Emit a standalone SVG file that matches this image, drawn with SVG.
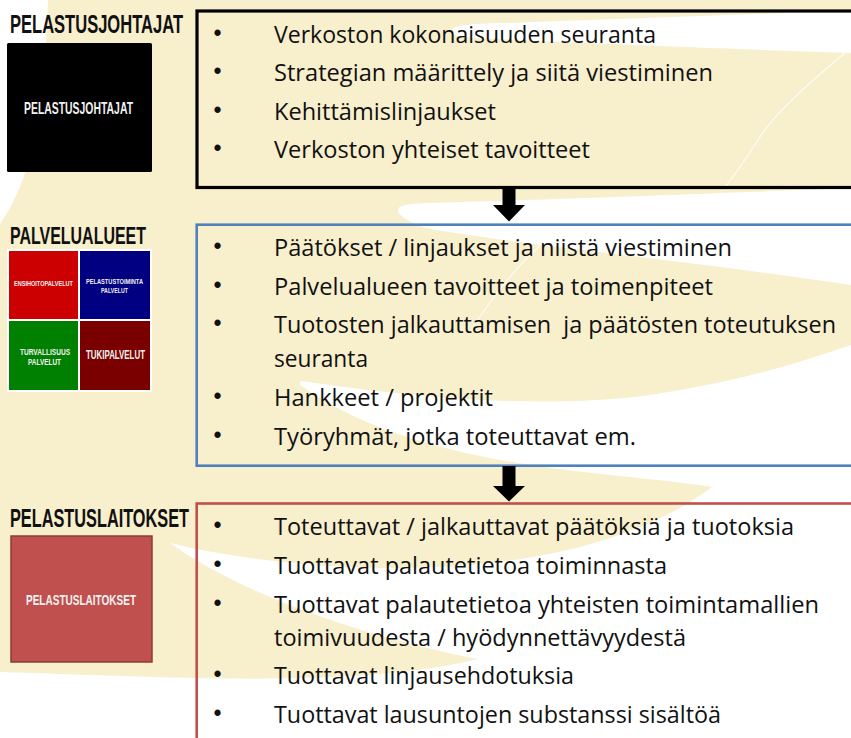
<svg xmlns="http://www.w3.org/2000/svg" width="851" height="738" viewBox="0 0 851 738">
  <style>
    .bg { fill: #F8EFCD; }
    .swoosh { fill: #FFFFFF; }
    .hair { fill: none; stroke: #FFFFFF; stroke-width: 1.2; opacity: 0.85; }
    .title { font-family: "Liberation Sans", Arial, sans-serif; font-weight: bold; font-size: 16.3px; fill: #111111; }
    .chip { font-family: "Liberation Sans Narrow", "Liberation Sans", Arial, sans-serif; font-weight: bold; fill: #F2F2F2; }
    .body { font-family: "Open Sans", "Liberation Sans", Arial, sans-serif; font-size: 23px; fill: #111111; }
    .bullet { font-family: "Liberation Sans", Arial, sans-serif; font-size: 23px; fill: #111111; text-anchor: middle; }
    .frame { fill: none; }
    .arrow { fill: #000000; }
  </style>

  <!-- background -->
  <g id="background">
    <rect class="bg" x="0" y="0" width="851" height="738"/>
    <path class="swoosh" d="M0,0 L48,0 C44,90 38,170 0,224 Z"/>
    <path class="swoosh" d="M452,31 C452,27 460,25 475,24 C600,20 750,14 851,11 L851,53 C700,48 560,42 475,38 C460,37 452,35 452,31 Z"/>
    <path class="swoosh" d="M398,210 C398,205 410,204 425,203 C600,198 750,192 851,188 L851,285 C700,262 520,245 425,228 C410,222 398,216 398,210 Z"/>
    <path class="swoosh" d="M300,381 C380,392 520,412 650,395 C760,378 820,355 851,345 L851,738 L0,738 L0,672 C150,676 350,690 478,659 C380,640 250,600 170,543 C280,570 560,600 712,487 C600,470 420,470 300,385 Z"/>
    <path class="hair" d="M845,53 C800,90 770,120 758,140 C745,160 735,175 725,187"/>
    <path class="hair" d="M560,228 C520,260 490,300 470,332"/>
    <path class="hair" d="M0,688 C120,694 300,700 420,690"/>
  </g>

  <!-- PELASTUSJOHTAJAT -->
  <g id="label-pelastusjohtajat">
    <text class="title" x="10" y="33" transform="matrix(1,0,0,1.55,0,-18.15)" textLength="173" lengthAdjust="spacingAndGlyphs">PELASTUSJOHTAJAT</text>
    <rect x="7" y="43" width="145" height="129" rx="1.5" fill="#000000"/>
    <text class="chip" x="24" y="114" font-size="16.5" textLength="109" lengthAdjust="spacingAndGlyphs">PELASTUSJOHTAJAT</text>
  </g>

  <g id="box-pelastusjohtajat">
    <rect class="frame" x="197" y="11" width="680" height="176.5" stroke="#000000" stroke-width="3.2"/>
    <text class="bullet" x="217.5" y="41">•</text>
    <text class="body" x="274" y="43" textLength="382" lengthAdjust="spacingAndGlyphs">Verkoston kokonaisuuden seuranta</text>
    <text class="bullet" x="217.5" y="79">•</text>
    <text class="body" x="274" y="81" textLength="439" lengthAdjust="spacingAndGlyphs">Strategian määrittely ja siitä viestiminen</text>
    <text class="bullet" x="217.5" y="118">•</text>
    <text class="body" x="274" y="120" textLength="222" lengthAdjust="spacingAndGlyphs">Kehittämislinjaukset</text>
    <text class="bullet" x="217.5" y="156">•</text>
    <text class="body" x="274" y="158" textLength="316" lengthAdjust="spacingAndGlyphs">Verkoston yhteiset tavoitteet</text>
  </g>

  <!-- PALVELUALUEET -->
  <g id="label-palvelualueet">
    <text class="title" x="10" y="244" transform="matrix(1,0,0,1.5,0,-122)" textLength="136" lengthAdjust="spacingAndGlyphs">PALVELUALUEET</text>
    <rect x="7" y="249" width="145" height="143" fill="#FFFFFF"/>
    <rect x="9" y="251" width="69" height="68" fill="#CC0000"/>
    <rect x="80" y="251" width="70" height="68" fill="#000080"/>
    <rect x="9" y="321" width="69" height="69" fill="#008000"/>
    <rect x="80" y="321" width="70" height="69" fill="#7A0000"/>
    <text class="chip" x="14" y="286" font-size="7.5" textLength="59" lengthAdjust="spacingAndGlyphs">ENSIHOITOPALVELUT</text>
    <text class="chip" x="86" y="284" font-size="7.5" textLength="57" lengthAdjust="spacingAndGlyphs">PELASTUSTOIMINTA</text>
    <text class="chip" x="101" y="293" font-size="7.5" textLength="27" lengthAdjust="spacingAndGlyphs">PALVELUT</text>
    <text class="chip" x="20" y="355" font-size="8.5" textLength="50" lengthAdjust="spacingAndGlyphs">TURVALLISUUS</text>
    <text class="chip" x="28" y="365" font-size="8.5" textLength="33" lengthAdjust="spacingAndGlyphs">PALVELUT</text>
    <text class="chip" x="86" y="359" font-size="12" textLength="59" lengthAdjust="spacingAndGlyphs">TUKIPALVELUT</text>
  </g>

  <g id="box-palvelualueet">
    <rect class="frame" x="196.7" y="224.7" width="680" height="241" stroke="#4F81BD" stroke-width="2.6"/>
    <text class="bullet" x="217.5" y="254">•</text>
    <text class="body" x="274" y="256" textLength="458" lengthAdjust="spacingAndGlyphs">Päätökset / linjaukset ja niistä viestiminen</text>
    <text class="bullet" x="217.5" y="293">•</text>
    <text class="body" x="274" y="295" textLength="439" lengthAdjust="spacingAndGlyphs">Palvelualueen tavoitteet ja toimenpiteet</text>
    <text class="bullet" x="217.5" y="331">•</text>
    <text class="body" x="274" y="333" xml:space="preserve" textLength="562" lengthAdjust="spacingAndGlyphs">Tuotosten jalkauttamisen  ja päätösten toteutuksen</text>
    <text class="body" x="274" y="367" textLength="94" lengthAdjust="spacingAndGlyphs">seuranta</text>
    <text class="bullet" x="217.5" y="404">•</text>
    <text class="body" x="274" y="406" textLength="219" lengthAdjust="spacingAndGlyphs">Hankkeet / projektit</text>
    <text class="bullet" x="217.5" y="443">•</text>
    <text class="body" x="274" y="445" textLength="362" lengthAdjust="spacingAndGlyphs">Työryhmät, jotka toteuttavat em.</text>
  </g>

  <!-- PELASTUSLAITOKSET -->
  <g id="label-pelastuslaitokset">
    <text class="title" x="10" y="527" transform="matrix(1,0,0,1.55,0,-289.85)" textLength="179" lengthAdjust="spacingAndGlyphs">PELASTUSLAITOKSET</text>
    <rect x="11" y="536" width="141" height="126" fill="#C0504D" stroke="#8C3B39" stroke-width="1.5"/>
    <text class="chip" x="26" y="605" font-size="15.5" textLength="110" lengthAdjust="spacingAndGlyphs">PELASTUSLAITOKSET</text>
  </g>

  <g id="box-pelastuslaitokset">
    <rect class="frame" x="196.7" y="503.5" width="680" height="260" stroke="#C0504D" stroke-width="2.6"/>
    <text class="bullet" x="217.5" y="533">•</text>
    <text class="body" x="274" y="535" textLength="520" lengthAdjust="spacingAndGlyphs">Toteuttavat / jalkauttavat päätöksiä ja tuotoksia</text>
    <text class="bullet" x="217.5" y="572">•</text>
    <text class="body" x="274" y="574" textLength="393" lengthAdjust="spacingAndGlyphs">Tuottavat palautetietoa toiminnasta</text>
    <text class="bullet" x="217.5" y="611">•</text>
    <text class="body" x="274" y="613" textLength="545" lengthAdjust="spacingAndGlyphs">Tuottavat palautetietoa yhteisten toimintamallien</text>
    <text class="body" x="274" y="646" textLength="412" lengthAdjust="spacingAndGlyphs">toimivuudesta / hyödynnettävyydestä</text>
    <text class="bullet" x="217.5" y="682">•</text>
    <text class="body" x="274" y="684" textLength="300" lengthAdjust="spacingAndGlyphs">Tuottavat linjausehdotuksia</text>
    <text class="bullet" x="217.5" y="721">•</text>
    <text class="body" x="274" y="723" textLength="447" lengthAdjust="spacingAndGlyphs">Tuottavat lausuntojen substanssi sisältöä</text>
  </g>

  <!-- connectors -->
  <g id="connectors">
    <path class="arrow" d="M502.5,187 L515.5,187 L515.5,205 L525,205 L509,221.5 L493,205 L502.5,205 Z"/>
    <path class="arrow" d="M502.5,466 L515.5,466 L515.5,486 L525,486 L509,501.5 L493,486 L502.5,486 Z"/>
  </g>
</svg>
